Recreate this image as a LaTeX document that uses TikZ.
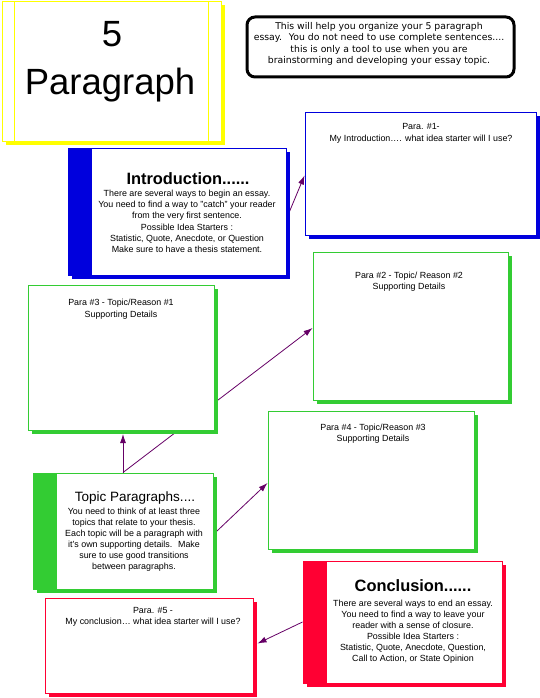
\documentclass[tikz,border=0pt]{standalone}
\usepackage{fontspec}
\setmainfont{Liberation Sans}
\newfontfamily\dvs{DejaVu Sans}
\usetikzlibrary{shadows,arrows.meta,backgrounds}
\definecolor{mblue}{HTML}{0000DD}
\definecolor{mgreen}{HTML}{33CC33}
\definecolor{mred}{HTML}{FF0033}
\definecolor{myellow}{HTML}{FFFF00}
\definecolor{mpurple}{HTML}{660066}
\tikzset{
  pbox/.style={draw=#1, fill=white, line width=1pt, inner sep=0pt, anchor=north west,
    drop shadow={shadow xshift=3.5pt, shadow yshift=-3.5pt, fill=#1, opacity=1}},
  bbox/.style={pbox=#1, path picture={\fill[#1] (path picture bounding box.north west) rectangle ([xshift=24pt]path picture bounding box.south west);}},
  arr/.style={draw=mpurple, line width=0.8pt, -{Latex[length=9pt,width=6pt]}},
  body/.style={anchor=north, align=center, inner sep=0pt, font=\fontsize{8.9}{11.1}\selectfont},
  ptext/.style={anchor=north, align=center, inner sep=0pt, font=\fontsize{8.9}{11.4}\selectfont},
  btitle/.style={anchor=base, inner sep=0pt, font=\fontsize{16.4}{18}\selectfont\bfseries},
}
\begin{document}
\begin{tikzpicture}[x=1pt,y=-1pt]
\useasboundingbox (0,0) rectangle (540,698);
% title box
\node[pbox=myellow, minimum width=219pt, minimum height=139pt] (title) at (1.5,1.5) {};
\draw[myellow, line width=1pt] ([xshift=13pt]title.north west) -- ([xshift=13pt]title.south west);
\draw[myellow, line width=1pt] ([xshift=-13pt]title.north east) -- ([xshift=-13pt]title.south east);
\node[anchor=base, inner sep=0pt, font=\fontsize{36.5}{40}\selectfont] (t5) at (112,47) {5};
\node[anchor=base, inner sep=0pt, font=\fontsize{36.5}{40}\selectfont] (tpar) at (110,95) {Paragraph};
% note box
\node[draw=black, line width=3pt, rounded corners=8pt, minimum width=267pt, minimum height=60pt, anchor=north west, inner sep=0pt] (note) at (245.5,15.5) {};
\node[anchor=north, align=center, inner sep=0pt, font=\dvs\fontsize{9.3}{11.3}\selectfont] (notetext) at (379,22.2)
  {This will help you organize your 5 paragraph\\essay.~ You do not need to use complete sentences....\\this is only a tool to use when you are\\brainstorming and developing your essay topic.};
% boxes
\node[bbox=mblue, minimum width=218pt, minimum height=127pt] (intro) at (67.5,147.5) {};
\node[pbox=mblue, minimum width=231pt, minimum height=122pt] (p1) at (304.5,112.5) {};
\node[pbox=mgreen, minimum width=186pt, minimum height=145pt] (p3) at (27.5,284.5) {};
\node[pbox=mgreen, minimum width=195pt, minimum height=148pt] (p2) at (312.5,251.5) {};
\node[pbox=mgreen, minimum width=206pt, minimum height=138pt] (p4) at (267.5,410.5) {};
\node[bbox=mgreen, minimum width=180pt, minimum height=116pt] (topic) at (32.5,472.5) {};
\node[bbox=mred, minimum width=199pt, minimum height=122pt] (conc) at (302.5,560.5) {};
\node[pbox=mred, minimum width=208pt, minimum height=95pt] (p5) at (44.5,597.5) {};
% texts
\node[btitle] (introtitle) at (188,184) {Introduction......};
\node[body] (introbody) at (187,190.1) {There are several ways to begin an essay.\\You need to find a way to "catch" your reader\\from the very first sentence.\\Possible Idea Starters :\\Statistic, Quote, Anecdote, or Question\\Make sure to have a thesis statement.};
\node[ptext] (p1text) at (421,123.6) {Para. \#1-\\My Introduction…. what idea starter will I use?};
\node[ptext] (p3text) at (121,299.3) {Para \#3 - Topic/Reason \#1\\Supporting Details};
\node[ptext] (p2text) at (409,271.9) {Para \#2 - Topic/ Reason \#2\\Supporting Details};
\node[ptext] (p4text) at (373,423.6) {Para \#4 - Topic/Reason \#3\\Supporting Details};
\node[anchor=base, inner sep=0pt, font=\fontsize{13.5}{15}\selectfont] (topictitle) at (135,501.7) {Topic Paragraphs....};
\node[body] (topicbody) at (134,507.6) {You need to think of at least three\\topics that relate to your thesis.\\Each topic will be a paragraph with\\it's own supporting details.~ Make\\sure to use good transitions\\between paragraphs.};
\node[btitle] (conctitle) at (413,591.7) {Conclusion......};
\node[body] (concbody) at (413,599.6) {There are several ways to end an essay.\\You need to find a way to leave your\\reader with a sense of closure.\\Possible Idea Starters :\\Statistic, Quote, Anecdote, Question,\\Call to Action, or State Opinion};
\node[ptext] (p5text) at (153,606.9) {Para. \#5 -\\My conclusion… what idea starter will I use?};
% connectors
\begin{pgfonlayer}{background}
\fill[white] (0,0) rectangle (540,698);
\draw[arr] ([xshift=3pt]intro.east) -- ([yshift=-1.5pt]p1.west);
\draw[arr] (topic.north) -- ([yshift=-3.5pt]topic.north |- p3.south);
\draw[arr] (topic.north) -- ([yshift=-2pt]p2.west);
\draw[arr] ([xshift=3.5pt]topic.east) -- ([yshift=-3pt]p4.west);
\draw[arr] (conc.west) -- ([xshift=4pt,yshift=2pt]p5.east);
\end{pgfonlayer}
\end{tikzpicture}
\end{document}
